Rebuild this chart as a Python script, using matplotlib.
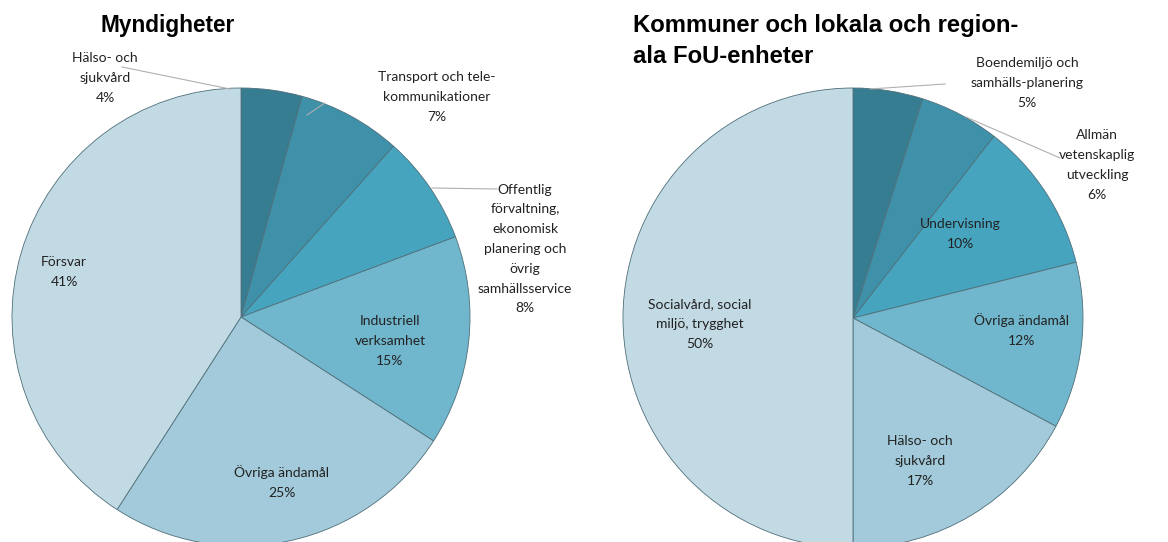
import matplotlib.pyplot as plt

# left pie: Myndigheter (clockwise from 12 o'clock)
myn_labels = ['Hälso- och\nsjukvård', 'Transport och tele-\nkommunikationer',
              'Offentlig\nförvaltning,\nekonomisk\nplanering och\növrig\nsamhällsservice',
              'Industriell\nverksamhet', 'Övriga ändamål', 'Försvar']
myn_values = [4.3, 7.3, 7.7, 14.8, 25.0, 40.9]
myn_pct = ['4%', '7%', '8%', '15%', '25%', '41%']

# right pie: Kommuner och lokala och regionala FoU-enheter
kom_labels = ['Boendemiljö och\nsamhälls-planering', 'Allmän\nvetenskaplig\nutveckling',
              'Undervisning', 'Övriga ändamål', 'Hälso- och\nsjukvård',
              'Socialvård, social\nmiljö, trygghet']
kom_values = [4.9, 5.6, 10.6, 11.7, 17.2, 50.0]
kom_pct = ['5%', '6%', '10%', '12%', '17%', '50%']

colors = ['#367D91', '#3F91A9', '#46A4BF', '#70B6CC', '#A2CADA', '#C2DAE3']

W, H = 1168, 542
fig = plt.figure(figsize=(W / 100, H / 100), dpi=100)
ax = fig.add_axes([0, 0, 1, 1])


def py(y):
    # pixel row (from top) -> data y
    return H - y


def draw_pie(values, center, radius):
    wedges, _ = ax.pie(values, colors=colors, startangle=90, counterclock=False,
                       center=center, radius=radius, frame=True,
                       wedgeprops=dict(edgecolor='#4f6f7a', linewidth=0.6))
    return wedges


lab_font = dict(family='Lato', fontsize=10, color='#222222',
                ha='center', va='center', linespacing=1.78)

draw_pie(myn_values, (241, py(317)), 229)
draw_pie(kom_values, (853, py(318)), 230)
ax.set_xlim(0, W)
ax.set_ylim(0, H)
ax.set_aspect('equal')
ax.axis('off')

# label positions (pixel space, centre of text block)
myn_pos = [(105, 78), (437, 97), (525, 249), (390, 341), (282, 482), (64, 272)]
kom_pos = [(1027, 83), (1097, 165), (960, 234), (1022, 330), (920, 461), (700, 324)]

for (x, y), name, pct in zip(myn_pos, myn_labels, myn_pct):
    ax.text(x, py(y), name + '\n' + pct, **lab_font)
for (x, y), name, pct in zip(kom_pos, kom_labels, kom_pct):
    ax.text(x, py(y), name + '\n' + pct, **lab_font)

# leader lines
leaders = [((230, 89), (122, 67)),
           ((307, 115), (325, 103)),
           ((432, 188), (497, 189)),
           ((870, 89), (945, 84)),
           ((966, 117), (1060, 158))]
for (x0, y0), (x1, y1) in leaders:
    ax.plot([x0, x1], [py(y0), py(y1)], color='#b0b0b0', lw=0.8)

title_font = dict(family='Liberation Sans', fontweight='bold',
                  color='black', ha='left', va='baseline')
ax.text(100, py(32), 'Myndigheter', fontsize=16.3, **title_font)
ax.text(633, py(32), 'Kommuner och lokala och region-', fontsize=17.2, **title_font)
ax.text(633, py(63), 'ala FoU-enheter', fontsize=17.2, **title_font)

fig.savefig('out.png', dpi=100)
